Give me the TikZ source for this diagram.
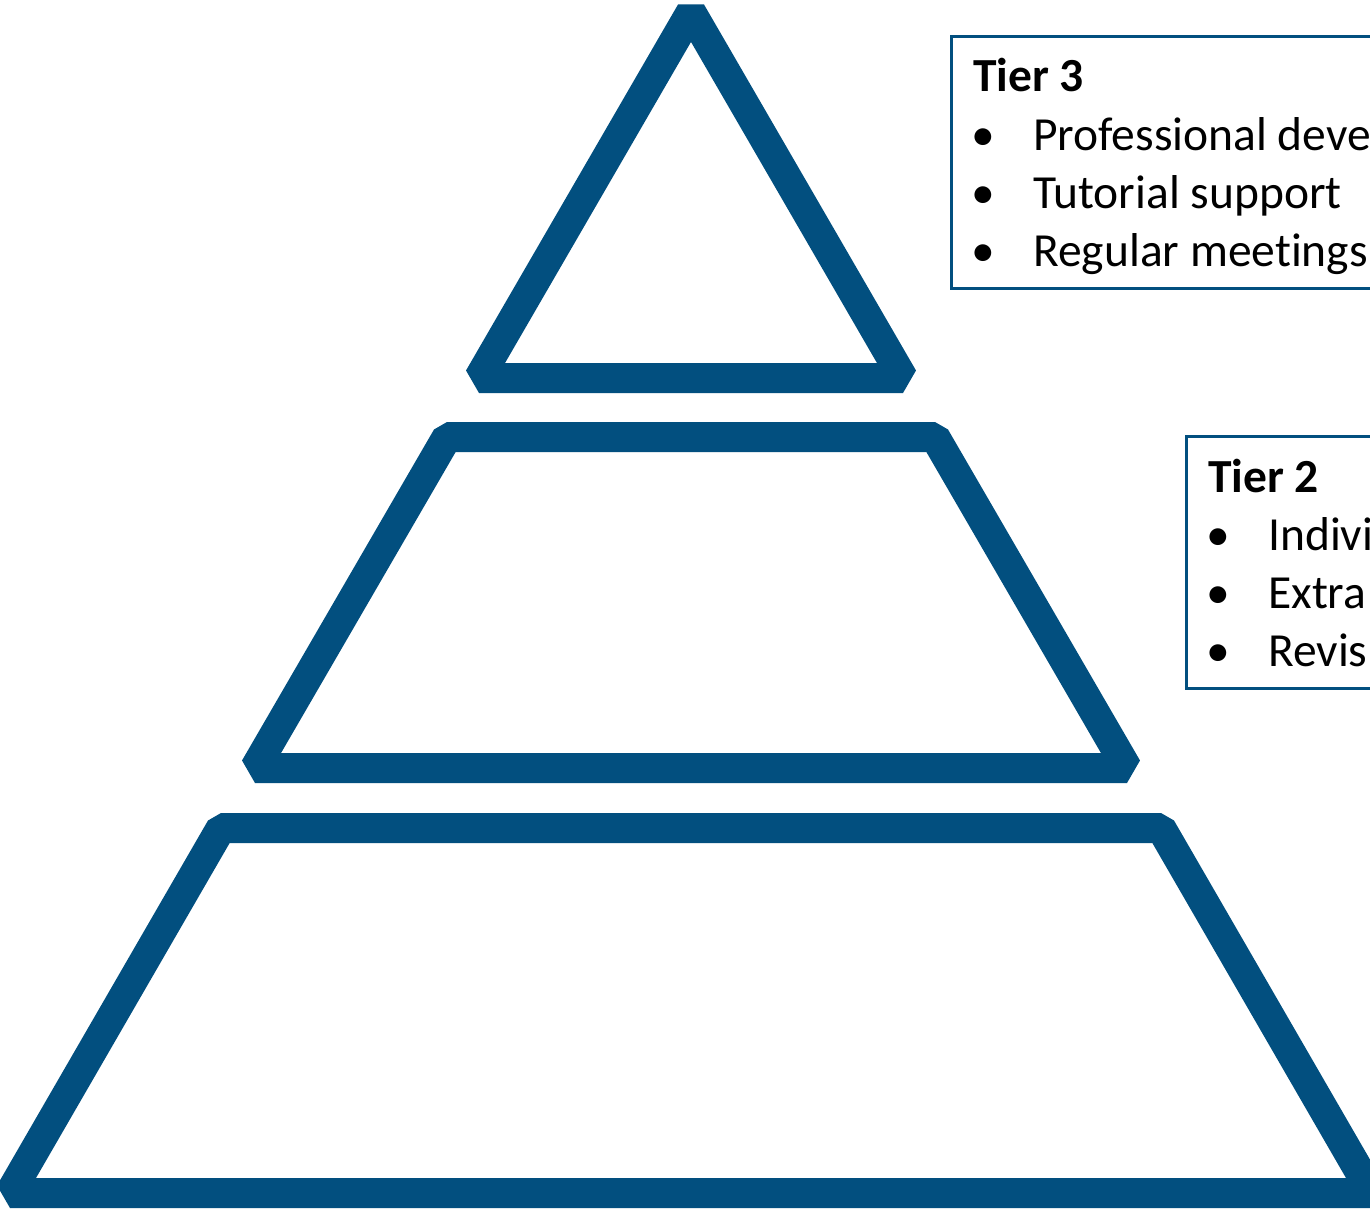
\documentclass[tikz,border=0pt]{standalone}
\usepackage{fontspec}
\setmainfont{Carlito}[Ligatures=NoCommon]
\definecolor{pyr}{HTML}{024F7F}
\begin{document}
\begin{tikzpicture}[x=1pt,y=-1pt,
  pyrshape/.style={draw=pyr,line width=30pt,line join=bevel},
  boxline/.style={draw=pyr,line width=3pt},
  ttl/.style={anchor=base west,inner sep=0pt,font=\fontsize{47.5}{58}\selectfont\bfseries},
  bul/.style={anchor=base west,inner sep=0pt,font=\fontsize{47.5}{58}\selectfont}]
\fill[white] (0,0) rectangle (1370,1212);
\useasboundingbox (0,0) rectangle (1370,1212);
% top triangle
\draw[pyrshape] (691,12) -- (903,378) -- (479,378) -- cycle;
% middle trapezoid
\draw[pyrshape] (447,437) -- (935,437) -- (1127,768) -- (255,768) -- cycle;
% bottom trapezoid
\draw[pyrshape] (221,828) -- (1161,828) -- (1372,1193) -- (10,1193) -- cycle;
% Tier 3 box
\draw[boxline] (1375,36.5) -- (951.5,36.5) -- (951.5,288.5) -- (1375,288.5);
\node[ttl] (t3) at (973,92) {Tier 3};
\node[bul] (t3b1) at (971,150) {•};
\node[bul] (t3i1) at (1033,150) {Professional deve};
\node[bul] (t3b2) at (971,208) {•};
\node[bul] (t3i2) at (1033,208) {Tutorial support};
\node[bul] (t3b3) at (971,266) {•};
\node[bul] (t3i3) at (1033,266) {Regular meetings};
% Tier 2 box
\draw[boxline] (1375,436.5) -- (1186,436.5) -- (1186,688.5) -- (1375,688.5);
\node[ttl] (t2) at (1208,492) {Tier 2};
\node[bul] (t2b1) at (1206,550) {•};
\node[bul] (t2i1) at (1268,550) {Indivi};
\node[bul] (t2b2) at (1206,608) {•};
\node[bul] (t2i2) at (1268,608) {Extra};
\node[bul] (t2b3) at (1206,666) {•};
\node[bul] (t2i3) at (1268,666) {Revis};
\end{tikzpicture}
\end{document}
